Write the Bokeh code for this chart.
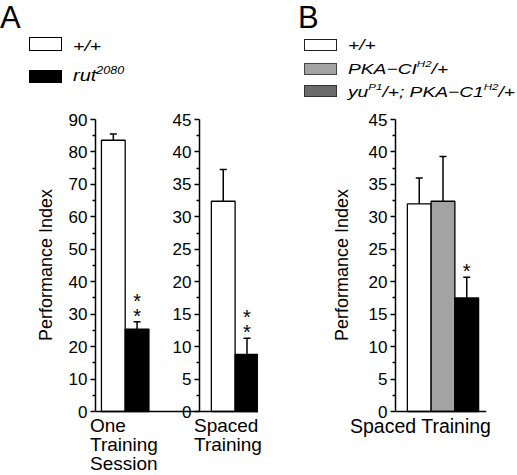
from bokeh.plotting import figure
from bokeh.models import Range1d, LinearAxis, FixedTicker, Div
from bokeh.layouts import column, row
from bokeh.embed import file_html
from bokeh.resources import INLINE
from bokeh.core.properties import value

# ---------------- data ----------------
a_genotypes = ["+/+", "rut2080"]
a_colors = ["white", "black"]
a1_category = ["One", "Training", "Session"]
a1_means = [83.6, 25.4]
a1_errs = [1.9, 2.3]
a1_stars = [0, 2]
a2_category = ["Spaced", "Training"]
a2_means = [32.4, 8.8]
a2_errs = [4.9, 2.5]
a2_stars = [0, 2]

b_genotypes = ["+/+", "PKA-CI H2/+", "yu P1/+; PKA-C1 H2/+"]
b_colors = ["white", "#a3a3a3", "black"]
b_legend_colors = ["white", "#a3a3a3", "#6b6b6b"]
b_category = ["Spaced Training"]
b_means = [32.0, 32.4, 17.5]
b_errs = [4.0, 6.9, 3.2]
b_stars = [0, 0, 1]

a1_ticks = [0, 10, 20, 30, 40, 50, 60, 70, 80, 90]
a2_ticks = [0, 5, 10, 15, 20, 25, 30, 35, 40, 45]
b_ticks = [0, 5, 10, 15, 20, 25, 30, 35, 40, 45]
y_label = "Performance Index"

FONT = "Liberation Sans"
AX_H = 292          # pixel height of the 0..max axis
PAD_T, PAD_B = 12, 11
UNIT = 23.75        # pixel width of one bar


def minor(t):
    return [(a + b) / 2 for a, b in zip(t[:-1], t[1:])]


def padded(ticks):
    lo, hi = ticks[0], ticks[-1]
    u = (hi - lo) / AX_H
    return Range1d(lo - PAD_B * u, hi + PAD_T * u)


def style_axis(ax, ticks):
    ax.ticker = FixedTicker(ticks=ticks, minor_ticks=minor(ticks))
    ax.bounds = (ticks[0], ticks[-1])
    ax.axis_line_width = 1.5
    ax.major_tick_line_width = 1.5
    ax.minor_tick_line_width = 1.5
    ax.major_tick_out = 5
    ax.major_tick_in = 0
    ax.minor_tick_out = 3
    ax.minor_tick_in = 0
    ax.major_label_standoff = 3
    ax.major_label_text_font = FONT
    ax.major_label_text_font_size = "17px"
    ax.major_label_text_color = "black"
    ax.axis_line_color = "black"
    ax.major_tick_line_color = "black"
    ax.minor_tick_line_color = "black"


def base_fig(frame_w, left, right, xr, ticks, label_standoff):
    p = figure(frame_width=frame_w, frame_height=AX_H + PAD_T + PAD_B, min_border_left=left,
               min_border_right=right, min_border_top=7, min_border_bottom=0,
               x_range=xr, y_range=padded(ticks), output_backend="svg",
               toolbar_location=None, tools="")
    p.xgrid.visible = False
    p.ygrid.visible = False
    p.outline_line_color = None
    p.xaxis.ticker = FixedTicker(ticks=[])
    p.xaxis.fixed_location = 0
    p.xaxis.axis_line_width = 1.5
    p.xaxis.axis_line_color = "black"
    p.xaxis.major_label_text_font_size = "0px"
    style_axis(p.yaxis[0], ticks)
    p.yaxis.axis_label = y_label
    p.yaxis.axis_label_text_font = FONT
    p.yaxis.axis_label_text_font_size = "18px"
    p.yaxis.axis_label_text_font_style = "normal"
    p.yaxis.axis_label_text_color = "black"
    p.yaxis.axis_label_standoff = label_standoff
    return p


def bars(p, x0, means, errs, colors, stars, span, range_name="default"):
    xs = [x0 + 0.5 + i for i in range(len(means))]
    tops = [m + e for m, e in zip(means, errs)]
    px = span / AX_H
    p.vbar(x=xs, top=means, bottom=0, width=1, fill_color=colors, line_color="black",
           line_width=1.3, y_range_name=range_name)
    p.segment(x0=xs, y0=means, x1=xs, y1=tops, line_color="black", line_width=1.5,
              y_range_name=range_name)
    p.scatter(x=xs, y=tops, marker="dash", size=7, line_color="black", line_width=1.5,
              y_range_name=range_name)
    sx, sy = [], []
    for x, t, n in zip(xs, tops, stars):
        for k in range(n):
            sx.append(x)
            sy.append(t + (6 + 15 * k) * px)
    if sx:
        p.text(x=sx, y=sy, text=["*"] * len(sx), text_align="center",
               text_baseline="middle", text_font=value(FONT), text_font_size="20px",
               text_color="black", y_range_name=range_name)


# ---------------- panel A (two sub-axes share one frame) ----------------
a2_axis = (199 - 95) / UNIT
fa = base_fig(163, 95, 0, Range1d(0, 163 / UNIT), a1_ticks, 10)
fa.extra_y_ranges = {"a2": padded(a2_ticks)}
ax2 = LinearAxis(y_range_name="a2", fixed_location=a2_axis)
style_axis(ax2, a2_ticks)
fa.add_layout(ax2, "left")

bars(fa, 0.25, a1_means, a1_errs, a_colors, a1_stars, a1_ticks[-1])
bars(fa, a2_axis + 0.5, a2_means, a2_errs, a_colors, a2_stars, a2_ticks[-1], "a2")

# ---------------- panel B ----------------
fb = base_fig(91, 137, 31, Range1d(0, 91 / UNIT), b_ticks, 14)
bars(fb, 0.5, b_means, b_errs, b_colors, b_stars, b_ticks[-1])


# ---------------- header / footer texts ----------------
def txt(left, top, fs, html, scale=1.28, italic=True, lh=None):
    st = "italic" if italic else "normal"
    lh = lh or fs
    return (f'<div style="position:absolute;left:{left}px;top:{top}px;font-size:{fs}px;'
            f'line-height:{lh}px;font-style:{st};white-space:nowrap;transform:scaleX({scale});'
            f'transform-origin:left center">{html}</div>')


def sup(s, fs=9, up=7):
    return f'<span style="font-size:{fs}px;position:relative;top:-{up}px">{s}</span>'


def box(left, top, w, h, fill, border="1.5px solid black"):
    return (f'<div style="position:absolute;left:{left}px;top:{top}px;width:{w}px;height:{h}px;'
            f'box-sizing:border-box;background:{fill};border:{border}"></div>')


def panel_div(parts, h):
    return Div(text=('<div style="position:relative;width:517px;height:%dpx;' % h
                     + f'font-family:\'{FONT}\';color:black">' + "".join(parts) + "</div>"),
               width=517, height=h, margin=0)


header = panel_div([
    txt(0, 0, 31, "A", 1, False, 35),
    txt(298, 0, 31, "B", 1, False, 35),
    box(29, 37, 33, 14, a_colors[0]),
    box(29, 70, 33, 13, a_colors[1]),
    txt(73, 38, 15, "+/+", 1.3),
    txt(73, 68, 16, "rut" + sup("2080", 10, 7), 1.25),
    box(304, 39, 33, 12, b_legend_colors[0], "1px solid #222"),
    box(304, 63, 33, 12, b_legend_colors[1], "1px solid #444"),
    box(304, 85, 33, 12, b_legend_colors[2], "1px solid #333"),
    txt(348, 37, 15, "+/+"),
    txt(348, 61, 15, "PKA\u2212CI" + sup("H2") + "/+"),
    txt(348, 84, 15, "yu" + sup("P1") + "/+; PKA\u2212C1" + sup("H2") + "/+"),
], 100)

footer = panel_div([
    txt(90, -6, 19, "<br>".join(a1_category), 1, False, 19),
    txt(194, -6, 19, "<br>".join(a2_category), 1, False, 19),
    txt(350, -5, 19.5, "<br>".join(b_category), 1, False, 19.5),
], 53)

layout = column(header, row(fa, fb, spacing=0), footer, spacing=0)
open("out.html", "w").write(file_html(layout, INLINE))
